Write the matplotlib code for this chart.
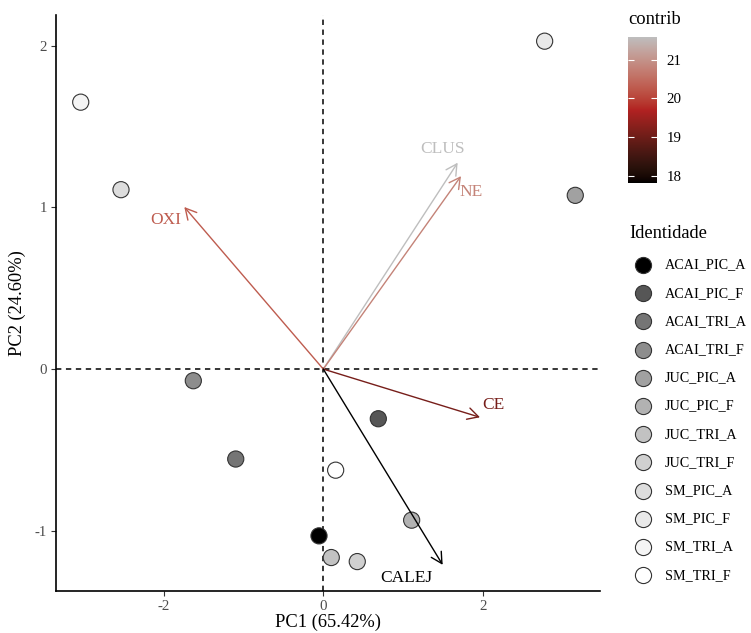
import numpy as np
import matplotlib
matplotlib.use("Agg")
import matplotlib.pyplot as plt

plt.rcParams['font.family'] = ['Liberation Serif', 'DejaVu Serif']
plt.rcParams['axes.unicode_minus'] = False

# ---------------- data ----------------
ids = ["ACAI_PIC_A", "ACAI_PIC_F", "ACAI_TRI_A", "ACAI_TRI_F",
       "JUC_PIC_A", "JUC_PIC_F", "JUC_TRI_A", "JUC_TRI_F",
       "SM_PIC_A", "SM_PIC_F", "SM_TRI_A", "SM_TRI_F"]
pc1 = [-0.054, 0.690, -1.098, -1.630, 3.160, 1.108, 0.100, 0.426, -2.537, 2.776, -3.042, 0.155]
pc2 = [-1.031, -0.307, -0.556, -0.072, 1.074, -0.934, -1.165, -1.190, 1.109, 2.027, 1.650, -0.625]

var_names = ["CLUS", "NE", "OXI", "CE", "CALEJ"]
var_x = [1.685, 1.727, -1.743, 1.965, 1.497]
var_y = [1.276, 1.193, 1.002, -0.298, -1.210]
contrib = [21.60, 20.80, 20.30, 19.10, 17.82]

x_label = "PC1 (65.42%)"
y_label = "PC2 (24.60%)"
x_ticks = [-2, 0, 2]
y_ticks = [-1, 0, 1, 2]

# label offsets (points) relative to arrow tips - layout only
label_offsets = {"CLUS": (-11, 10), "NE": (7, -11.5), "OXI": (-13.3, -9.6),
                 "CE": (9.6, 8.9), "CALEJ": (-26, -9.6)}

# ---------------- colour helpers (Lab interpolation like ggplot) ----------------
M = np.array([[0.4124564, 0.3575761, 0.1804375],
              [0.2126729, 0.7151522, 0.0721750],
              [0.0193339, 0.1191920, 0.9503041]])
Minv = np.linalg.inv(M)
WHITE = np.array([0.95047, 1.0, 1.08883])


def hex2rgb(h):
    h = h.lstrip('#')
    return np.array([int(h[i:i + 2], 16) / 255 for i in (0, 2, 4)])


def rgb2lab(c):
    lin = np.where(c <= 0.04045, c / 12.92, ((c + 0.055) / 1.055) ** 2.4)
    xyz = M @ lin / WHITE
    f = np.where(xyz > 0.008856, np.cbrt(xyz), 7.787 * xyz + 16 / 116)
    return np.array([116 * f[1] - 16, 500 * (f[0] - f[1]), 200 * (f[1] - f[2])])


def lab2rgb(lab):
    L, a, b = lab
    fy = (L + 16) / 116
    fx = fy + a / 500
    fz = fy - b / 200
    f = np.array([fx, fy, fz])
    xyz = np.where(f ** 3 > 0.008856, f ** 3, (f - 16 / 116) / 7.787) * WHITE
    lin = Minv @ xyz
    lin = np.clip(lin, 0, 1)
    c = np.where(lin <= 0.0031308, 12.92 * lin, 1.055 * lin ** (1 / 2.4) - 0.055)
    return np.clip(c, 0, 1)


LOW, MID, HIGH = rgb2lab(hex2rgb("#000000")), rgb2lab(hex2rgb("#B22222")), rgb2lab(hex2rgb("#BEBEBE"))
cmin, cmax = min(contrib), max(contrib)


def contrib_color(v):
    t = float(np.clip((v - cmin) / (cmax - cmin), 0, 1))
    if t <= 0.5:
        lab = LOW + (MID - LOW) * (t / 0.5)
    else:
        lab = MID + (HIGH - MID) * ((t - 0.5) / 0.5)
    return lab2rgb(lab)


# greys for identities (grey.colors(n, 0, 1))
n = len(ids)
fills = [str(v) for v in (np.linspace(0, 1, n) ** (1 / 2.2))]

# ---------------- figure ----------------
W, H = 751, 633
fig = plt.figure(figsize=(W / 100, H / 100), dpi=100)

pl, pr, pt, pb = 56, 600, 15, 591
ax = fig.add_axes([pl / W, 1 - pb / H, (pr - pl) / W, (pb - pt) / H])

allx = list(pc1) + list(var_x)
ally = list(pc2) + list(var_y)
rx = max(allx) - min(allx)
ry = max(ally) - min(ally)
ax.set_xlim(min(allx) - 0.05 * rx, max(allx) + 0.05 * rx)
ax.set_ylim(min(ally) - 0.05 * ry, max(ally) + 0.05 * ry)

ax.axhline(0, color="black", lw=1.1, ls=(0, (3.5, 3)), zorder=1)
ax.axvline(0, color="black", lw=1.1, ls=(0, (3.5, 3)), zorder=1)

ax.scatter(pc1, pc2, s=135, c=fills, edgecolors="#333333", linewidths=0.8, zorder=3)

for name, vx, vy, cval in zip(var_names, var_x, var_y, contrib):
    col = contrib_color(cval)
    ax.annotate("", xy=(vx, vy), xytext=(0, 0),
                arrowprops=dict(arrowstyle="->,head_length=0.65,head_width=0.35",
                                color=col, lw=1.0, mutation_scale=12,
                                shrinkA=0, shrinkB=0), zorder=4)
    ox, oy = label_offsets[name]
    ax.annotate(name, xy=(vx, vy), xytext=(ox, oy), textcoords="offset points",
                ha="center", va="center", fontsize=12.5, color=col, zorder=5)

for s in ["top", "right"]:
    ax.spines[s].set_visible(False)
for s in ["left", "bottom"]:
    ax.spines[s].set_linewidth(1.2)
    ax.spines[s].set_color("black")
ax.set_xticks(x_ticks)
ax.set_yticks(y_ticks)
ax.tick_params(axis="both", length=3.5, width=0.8, color="#333333",
               labelsize=10.7, labelcolor="#4D4D4D", pad=3)
ax.set_xlabel(x_label, fontsize=13.3, color="black", labelpad=0.5)
ax.set_ylabel(y_label, fontsize=13.3, color="black", labelpad=6)

# ---------------- colourbar ----------------
cb_l, cb_r, cb_t, cb_b = 628, 657, 36.7, 182.7
cax = fig.add_axes([cb_l / W, 1 - cb_b / H, (cb_r - cb_l) / W, (cb_b - cb_t) / H])
vals = np.linspace(cmin, cmax, 300)
img = np.array([contrib_color(v) for v in vals])[:, None, :]
cax.imshow(img, extent=[0, 1, cmin, cmax], aspect="auto", origin="lower")
cax.set_xlim(0, 1)
cax.set_ylim(cmin, cmax)
cb_ticks = np.arange(np.ceil(cmin), np.floor(cmax) + 1)
cax.hlines(cb_ticks, 0, 0.2, color="white", lw=0.8)
cax.hlines(cb_ticks, 0.8, 1, color="white", lw=0.8)
cax.set_xticks([])
cax.yaxis.tick_right()
cax.set_yticks(cb_ticks)
cax.set_yticklabels([f"{int(t)}" for t in cb_ticks])
cax.tick_params(axis="y", length=0, labelsize=10.7, labelcolor="black", pad=7)
for s in cax.spines.values():
    s.set_visible(False)
fig.text(cb_l / W, 1 - 20 / H, "contrib", fontsize=13.3, ha="left", va="center")

# ---------------- identity legend ----------------
lax = fig.add_axes([0, 0, 1, 1], facecolor="none")
lax.set_xlim(0, W)
lax.set_ylim(H, 0)
lax.axis("off")
lax.text(629, 234, "Identidade", fontsize=13.3, ha="left", va="center")
row0, step = 265, 28.2
for i, (lab, fc) in enumerate(zip(ids, fills)):
    y = row0 + i * step
    lax.scatter([643], [y], s=135, c=[fc], edgecolors="#333333", linewidths=0.8)
    lax.text(665, y, lab, fontsize=10.2, ha="left", va="center")

fig.savefig("out.png", dpi=100)
